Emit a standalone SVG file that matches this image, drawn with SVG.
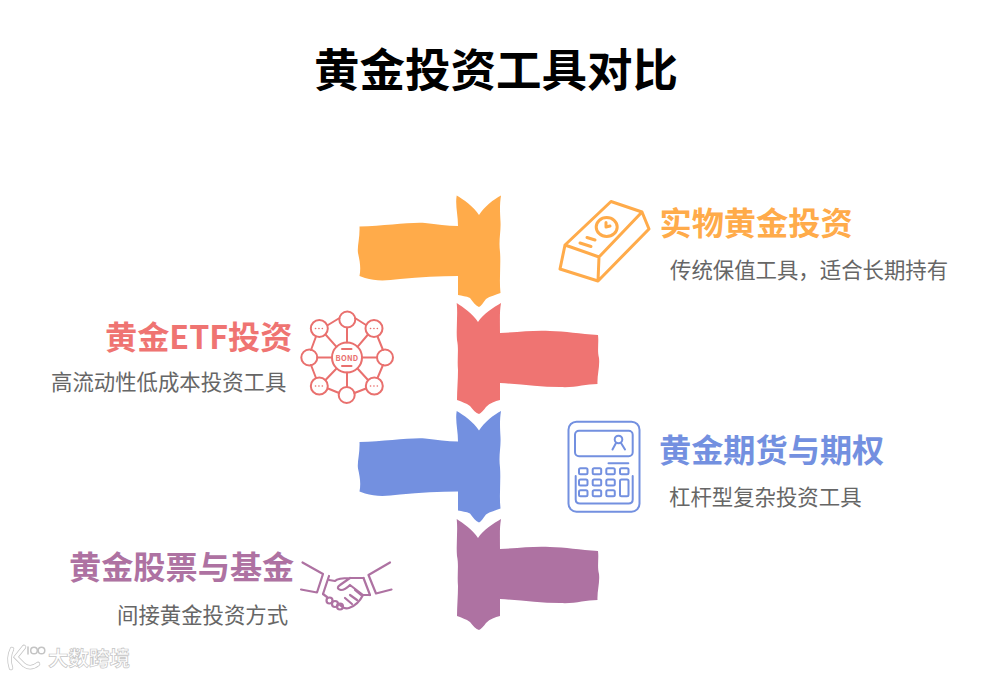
<svg xmlns="http://www.w3.org/2000/svg" width="1000" height="677" viewBox="0 0 1000 677">
<style>
text{font-family:"Noto Sans CJK SC","Noto Sans",sans-serif}
.t{font-size:45.500px;font-weight:700;fill:#000}
.h{font-size:32.200px;font-weight:700}
.s{font-size:21.400px;fill:#666}
.i{fill:none;stroke-linecap:round;stroke-linejoin:round}
.wm{font-size:20.500px;font-weight:700;fill:#fff;stroke:#c4c4c4;stroke-width:.7}
</style>
<defs>
<path id="L" d="M456.700 195.500C463 199 474 207 479 215C484 207 494 199 501 195.500C499.500 205 500 212 500.500 222C501 232 498.500 240 500 252C501 265 499 280 500.500 293C496 295 490 296 486 299C483 303 481 306 479 307C476 306 473 302 470 298C466 296 462 296 458 295L458 276C440 276 420 277 400 279C385 281 375 281 365 278L359.500 276C361 268 360 262 358 253C357 246 360 238 359.500 226.500C385 226 410 222 425 223C437 224 447 226 458 226C458 215 455 205 456.700 195.500Z"/>
<path id="R" d="M456.700 303C463 307 473 314 478 322C483 314 494 307 501 303C499.500 312 500 319 500 333C520 332 535 330 550 331C565 331 580 334 598 335C599 343 597 350 599 358C600 367 597 375 597.500 384C585 384 575 388 560 387C540 387 520 384 500 383L500 392V400C495 401 490 403 486 407C484 410 481 413 479 414C476 413 473 410 470 406C466 403 462 402 457 400C457 390 458 380 458 370C457 358 459 350 457 340C456 328 458 315 456.700 303Z"/>
</defs>
<text class="t" x="496" y="87" text-anchor="middle">黄金投资工具对比</text>
<g id="connectors"></g>
<g id="node-physical">
<use href="#L" fill="#FFAB4A"/>
<g class="i" stroke="#FFAB4A" stroke-width="3">
<path d="M565 245L611 201.500L642 212L649 229L598 281L560 269L565 245L599 257L598 281M599 257L642 212"/>
<ellipse cx="606.700" cy="227" rx="10.500" ry="9.500"/>
<path d="M606 222.500V227L610 226M587 237.500L595 240M580 243L591 246.500"/>
</g>
<text class="h" x="659.500" y="235" fill="#FFAB4A">实物黄金投资</text>
<text class="s" x="670" y="278">传统保值工具，适合长期持有</text>
</g>
<g id="node-etf">
<use href="#R" fill="#EF7472"/>
<g class="i" stroke="#E9706E" stroke-width="2">
<circle cx="347" cy="357.500" r="15"/>
<circle cx="347.300" cy="319.500" r="8"/><circle cx="374" cy="328.500" r="8.500"/><circle cx="385" cy="357.500" r="8"/><circle cx="374.300" cy="386" r="8.500"/><circle cx="346.700" cy="395" r="8"/><circle cx="319.300" cy="386" r="8.500"/><circle cx="309.300" cy="357.500" r="8"/><circle cx="319.300" cy="328.500" r="8.500"/>
<path d="M347 327.500V342.500M347 372.500V387M362 357.500H377M332 357.500H317.300M357.500 346.800L368 334.500M357.500 368.500L368 380M336.500 346.800L325.500 334.500M336.500 368.500L325.500 380M355 318L366 325M339.500 318L328 325M377.500 336.500L383 350M377.500 378L383 365M316 336.500L311 350M316 378L311 365M354.500 393L366 388.500M339 393L328 388.500M342 349H351.500M342 366H351.500"/>
<path d="M315.500 328.500H323M370.500 328.500H378M315.500 386H323M370.500 386H378" stroke-width="1.600" stroke-dasharray="0.1 3.300"/>
</g>
<text x="347" y="360.500" text-anchor="middle" font-size="7.500" font-weight="700" fill="#E9706E" letter-spacing=".3">BOND</text>
<text class="h" x="105" y="349" fill="#EF7472">黄金ETF投资</text>
<text class="s" x="51" y="390">高流动性低成本投资工具</text>
</g>
<g id="node-futures">
<use href="#L" y="215.500" fill="#7390E0"/>
<g class="i" stroke="#7390E0" stroke-width="2">
<rect x="568.500" y="421.700" width="71" height="90" rx="8"/>
<rect x="575" y="430.700" width="57.700" height="25.500" rx="4"/>
<circle cx="618.500" cy="439.500" r="3.800"/>
<path d="M616 443L612.500 449.500M621 443L625 449.500M608.500 463.300H628.300M575.700 476V499.500Q575.700 503.500 580 503.500H628.500Q632.700 503.500 632.700 499.500V476"/>
<rect x="579" y="468.300" width="8.500" height="6" rx="1.500"/><rect x="592.700" y="468.300" width="8.500" height="6" rx="1.500"/><rect x="606.300" y="468.300" width="8.500" height="6" rx="1.500"/><rect x="620" y="468.300" width="8.500" height="6" rx="1.500"/>
<rect x="579" y="479.500" width="8.500" height="6" rx="1.500"/><rect x="592.700" y="479.500" width="8.500" height="6" rx="1.500"/><rect x="606.300" y="479.500" width="8.500" height="6" rx="1.500"/>
<rect x="579" y="490.200" width="8.500" height="6" rx="1.500"/><rect x="592.700" y="490.200" width="8.500" height="6" rx="1.500"/><rect x="606.300" y="490.200" width="8.500" height="6" rx="1.500"/>
<rect x="620" y="479.500" width="8.500" height="16.700" rx="1.500"/>
</g>
<text class="h" x="659" y="462" fill="#7390E0">黄金期货与期权</text>
<text class="s" x="669" y="505">杠杆型复杂投资工具</text>
</g>
<g id="node-stocks">
<use href="#R" y="216" fill="#AE72A2"/>
<g class="i" stroke="#AE72A2" stroke-width="2.200">
<path d="M302.500 562.500L323 574L317 592.500L301 589.500M329 576L323 594M390 562.500L368.500 575L376 593.500L391.500 589.500M363.500 578L370 595"/>
<path d="M329 580L335 581C338 578 344 578 350 578L363.500 578M350 578L340 585C337 587 337 589 341 590C345 590 348 587 350 585L363 595L370 595M363 595C360 601 355 606 349 608C346 609 343 608 340 605M323 594L327 597"/>
<path d="M355 590L361 595M350 595L357 600M345 598L352 604"/>
<circle cx="329.500" cy="600.500" r="3"/><circle cx="335" cy="604" r="3"/><circle cx="340" cy="606.500" r="3"/>
</g>
<text class="h" x="69" y="579" fill="#AE72A2">黄金股票与基金</text>
<text class="s" x="117" y="623">间接黄金投资方式</text>
</g>
<g id="watermark">
<g fill="none" stroke-linecap="round">
<path d="M12 649C9 655 9 662 11 668M24 647L16 657L24 665C28 668 33 668 38 664" stroke="#c4c4c4" stroke-width="4.500"/>
<path d="M12 649C9 655 9 662 11 668M24 647L16 657L24 665C28 668 33 668 38 664" stroke="#fff" stroke-width="3"/>
<g stroke="#c4c4c4" stroke-width="1.500"><path d="M28 647V654"/><circle cx="34" cy="650.500" r="3.300"/><circle cx="41.500" cy="650.500" r="3.300"/></g>
</g>
<text class="wm" x="48" y="666">大数跨境</text>
</g>
</svg>
